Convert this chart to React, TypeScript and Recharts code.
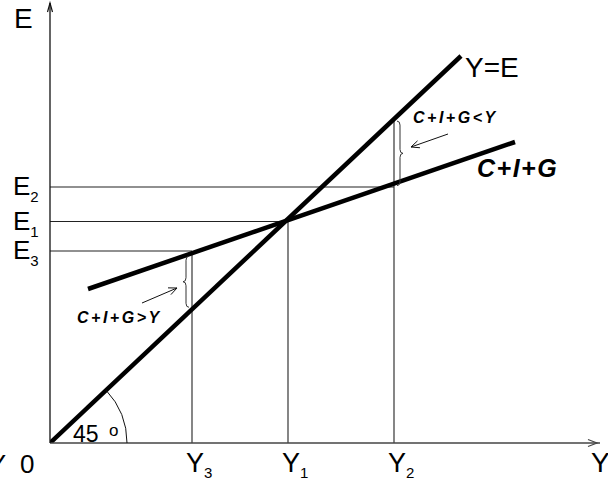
import React from 'react'
import { LineChart, Line, XAxis, YAxis } from 'recharts'

const WIDTH = 608
const HEIGHT = 484
const LEFT = 50
const TOP = 3
const RIGHT = 600
const BOTTOM = 443
const X_MAX = 110
const Y_MAX = 88

// income levels on the horizontal axis: Y3, Y1, Y2
const incomeTicks = [28.4, 47.6, 68.8]
const incomeSubs = ['3', '1', '2']
// spending levels on the vertical axis: E3, E1, E2
const spendLevels = [38.4, 44.3, 51.2]
const spendSubs = ['3', '1', '2']
// where each income guide stops (E3, E1, and the Y=E line above Y2)
const guideTops = [38.4, 44.3, 64.5]

const lineYE = [
  { x: 0, y: 0 },
  { x: 82.2, y: 77.4 },
]
const lineCIG = [
  { x: 7.6, y: 30.8 },
  { x: 93, y: 60.2 },
]

const FONT = '"Liberation Sans", Arial, sans-serif'

const px = (x: number) => LEFT + (x * (RIGHT - LEFT)) / X_MAX
const py = (y: number) => BOTTOM - (y * (BOTTOM - TOP)) / Y_MAX

const valueAt = (pts: { x: number; y: number }[], x: number) => {
  const [a, b] = pts
  return a.y + ((b.y - a.y) * (x - a.x)) / (b.x - a.x)
}

const verticalGuides = incomeTicks.map((x, i) => [
  { x, y: 0 },
  { x, y: guideTops[i] },
])
const horizontalGuides = spendLevels.map((y, i) => [
  { x: 0, y },
  { x: incomeTicks[i], y },
])

function arrow(x1: number, y1: number, x2: number, y2: number, len = 9, spread = 0.42) {
  const a = Math.atan2(y2 - y1, x2 - x1)
  const p1 = [x2 - len * Math.cos(a - spread), y2 - len * Math.sin(a - spread)]
  const p2 = [x2 - len * Math.cos(a + spread), y2 - len * Math.sin(a + spread)]
  return `M${x1},${y1} L${x2},${y2} M${p1[0]},${p1[1]} L${x2},${y2} L${p2[0]},${p2[1]}`
}

function brace(x0: number, top: number, bottom: number, w: number) {
  const mid = (top + bottom) / 2
  const h = w / 2
  const r = 4
  return `M${x0},${top} Q${x0 + h},${top} ${x0 + h},${top + r} L${x0 + h},${mid - r} Q${x0 + h},${mid} ${x0 + w},${mid} Q${x0 + h},${mid} ${x0 + h},${mid + r} L${x0 + h},${bottom - r} Q${x0 + h},${bottom} ${x0},${bottom}`
}

const XTick = ({ x, payload }: any) => {
  if (payload.value === 0) {
    return (
      <text x={x - 30} y={BOTTOM + 30} fontSize={26} fontFamily={FONT} fill="#000">
        0
      </text>
    )
  }
  const sub = incomeSubs[incomeTicks.indexOf(payload.value)]
  return (
    <text x={x - 6} y={BOTTOM + 29} fontSize={27} fontFamily={FONT} fill="#000">
      Y
      <tspan fontSize={15} dy={6}>
        {sub}
      </tspan>
    </text>
  )
}

const YTick = ({ y, payload }: any) => {
  const sub = spendSubs[spendLevels.indexOf(payload.value)]
  return (
    <text x={13} y={y + 8} fontSize={26} fontFamily={FONT} fill="#000">
      E
      <tspan fontSize={15} dy={7}>
        {sub}
      </tspan>
    </text>
  )
}

export default function App() {
  const y2 = incomeTicks[2]
  const y3 = incomeTicks[0]
  const upperTop = py(valueAt(lineYE, y2)) + 2
  const upperBottom = py(valueAt(lineCIG, y2)) + 2
  const lowerTop = py(valueAt(lineCIG, y3)) + 3
  const lowerBottom = py(valueAt(lineYE, y3)) - 2
  const angle = Math.atan2(py(0) - py(lineYE[1].y), px(lineYE[1].x) - px(0))
  const r = 77

  return (
    <div style={{ position: 'absolute', left: 0, top: 0, width: WIDTH, height: HEIGHT, background: '#fff' }}>
      <LineChart width={WIDTH} height={HEIGHT} margin={{ top: TOP, right: WIDTH - RIGHT, left: 0, bottom: 0 }}>
        <XAxis
          type="number"
          dataKey="x"
          domain={[0, X_MAX]}
          ticks={[0, ...incomeTicks]}
          interval={0}
          tick={<XTick />}
          tickLine={false}
          axisLine={{ stroke: '#444', strokeWidth: 1.6 }}
          height={HEIGHT - BOTTOM}
          allowDataOverflow
        />
        <YAxis
          type="number"
          dataKey="y"
          domain={[0, Y_MAX]}
          ticks={spendLevels}
          interval={0}
          tick={<YTick />}
          tickLine={false}
          axisLine={{ stroke: '#111', strokeWidth: 1.3 }}
          width={LEFT}
          allowDataOverflow
        />
        {verticalGuides.map((d, i) => (
          <Line key={`v${i}`} data={d} dataKey="y" stroke="#222" strokeWidth={1.1} dot={false} activeDot={false} isAnimationActive={false} />
        ))}
        {horizontalGuides.map((d, i) => (
          <Line key={`h${i}`} data={d} dataKey="y" stroke="#222" strokeWidth={1.1} dot={false} activeDot={false} isAnimationActive={false} />
        ))}
        <Line data={lineYE} dataKey="y" stroke="#000" strokeWidth={4.5} dot={false} activeDot={false} isAnimationActive={false} />
        <Line data={lineCIG} dataKey="y" stroke="#000" strokeWidth={4.5} dot={false} activeDot={false} isAnimationActive={false} />
      </LineChart>

      <svg width={WIDTH} height={HEIGHT} style={{ position: 'absolute', left: 0, top: 0, pointerEvents: 'none' }}>
        <g fill="none" stroke="#111" strokeWidth={1}>
          {/* axis arrow heads */}
          <path d={`M${LEFT - 2.5},${TOP + 9} L${LEFT},${TOP} L${LEFT + 2.5},${TOP + 9}`} strokeWidth={1.2} />
          <path d={`M${RIGHT - 12},${BOTTOM - 3.5} L${RIGHT - 3},${BOTTOM} L${RIGHT - 12},${BOTTOM + 3.5}`} stroke="#444" strokeWidth={1.2} />
          {/* 45 degree arc */}
          <path d={`M${LEFT + r},${BOTTOM} A${r},${r} 0 0 0 ${LEFT + r * Math.cos(angle)},${BOTTOM - r * Math.sin(angle)}`} />
          {/* braces */}
          <path d={brace(px(y2) + 3, upperTop, upperBottom, 6)} stroke="#333" />
          <path d={brace(px(y3) - 3, lowerTop, lowerBottom, -6)} stroke="#333" />
          {/* pointers */}
          <path d={arrow(448, 134, 411, 147)} />
          <path d={arrow(142, 303, 177, 288)} />
        </g>
        <g fontFamily={FONT} fill="#000">
          <text x={14} y={28} fontSize={28}>E</text>
          <text x={6} y={BOTTOM + 30} fontSize={26} textAnchor="end">Y</text>
          <text x={591} y={BOTTOM + 29} fontSize={28}>Y</text>
          <text x={465} y={77} fontSize={28}>Y=E</text>
          <text x={73} y={BOTTOM - 1} fontSize={23}>45</text>
          <text x={109} y={BOTTOM - 7} fontSize={17}>o</text>
          <text x={477} y={177} fontSize={25} fontWeight="bold" fontStyle="italic" letterSpacing={1.5}>
            C+I+G
          </text>
          <text x={413} y={123} fontSize={16} fontWeight="bold" fontStyle="italic" letterSpacing={2.5}>
            {'C+I+G<Y'}
          </text>
          <text x={77} y={323} fontSize={16} fontWeight="bold" fontStyle="italic" letterSpacing={2.5}>
            {'C+I+G>Y'}
          </text>
        </g>
      </svg>
    </div>
  )
}
